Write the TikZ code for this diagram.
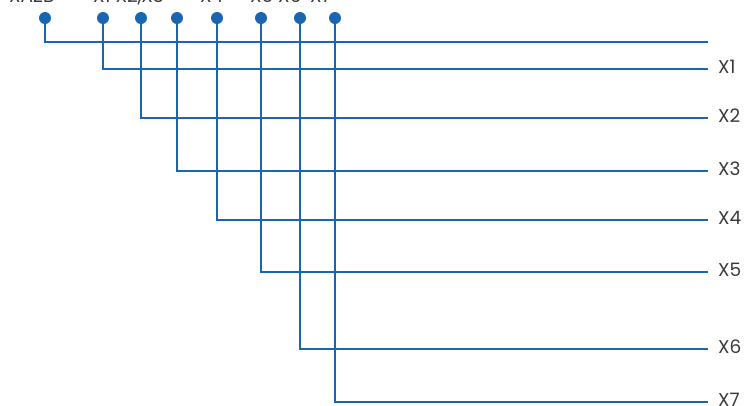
\documentclass[tikz,border=0pt]{standalone}
\usepackage{fontspec}
\setmainfont{Poppins}
\definecolor{wire}{HTML}{1A65B0}
\definecolor{txt}{HTML}{3A3A3A}
\begin{document}
\begin{tikzpicture}[x=1pt,y=-1pt,
  wireline/.style={draw=wire,line width=1.5pt},
  dot/.style={circle,fill=wire,inner sep=0pt,minimum size=12pt},
  lbl/.style={text=txt,font=\fontsize{18.5}{20}\selectfont,inner sep=0pt},
  toplbl/.style={lbl,anchor=base west}]
\useasboundingbox (0,0) rectangle (745,405);
\foreach \i/\x in {0/45,1/103,2/141,3/177,4/217,5/261,6/300,7/335}{
  \node[dot] (d\i) at (\x,18) {};
}
\foreach \i/\y in {0/42,1/69,2/118,3/171,4/220,5/272,6/349,7/402}{
  \coordinate (e\i) at (708,\y);
  \draw[wireline] (d\i.center) |- (e\i);
}
\foreach \i in {1,...,7}{
  \node[lbl,anchor=west] (l\i) at ([xshift=10pt,yshift=2pt]e\i) {X\i};
}
\node[toplbl] (t0) at (9,2) {XAZB};
\node[toplbl] (t1) at (93,2) {X1 X2,X3};
\node[toplbl] (t2) at (200,2) {X4};
\node[toplbl] (t3) at (250,2) {X5 X6};
\node[toplbl] (t4) at (310,2) {X7};
\end{tikzpicture}
\end{document}
